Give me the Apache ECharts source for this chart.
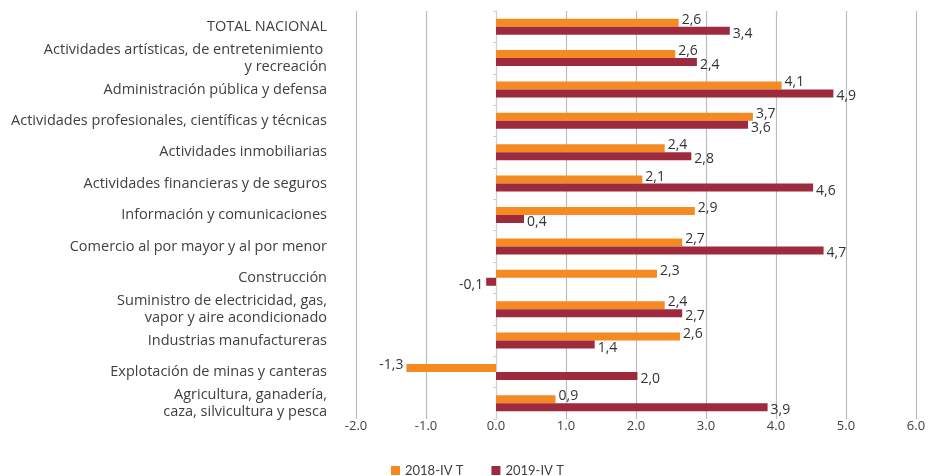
<!DOCTYPE html>
<html>
<head>
<meta charset="utf-8">
<script src="https://cdn.jsdelivr.net/npm/echarts@6/dist/echarts.min.js"></script>
<style>html,body{margin:0;padding:0;background:#fff}#c{width:929px;height:476px}</style>
</head>
<body>
<div id="c"></div>
<script>
const categories = [
  "TOTAL NACIONAL",
  "Actividades artísticas, de entretenimiento \ny recreación",
  "Administración pública y defensa",
  "Actividades profesionales, científicas y técnicas",
  "Actividades inmobiliarias",
  "Actividades financieras y de seguros",
  "Información y comunicaciones",
  "Comercio al por mayor y al por menor",
  "Construcción",
  "Suministro de electricidad, gas,\nvapor y aire acondicionado",
  "Industrias manufactureras",
  "Explotación de minas y canteras",
  "Agricultura, ganadería,\ncaza, silvicultura y pesca"
];
const seriesNames = ["2018-IV T", "2019-IV T"];
const values2018 = [2.61, 2.56, 4.08, 3.67, 2.41, 2.09, 2.84, 2.66, 2.30, 2.41, 2.63, -1.28, 0.85];
const values2019 = [3.34, 2.87, 4.82, 3.60, 2.79, 4.53, 0.40, 4.68, -0.14, 2.66, 1.41, 2.02, 3.88];
const labels2018 = ["2,6", "2,6", "4,1", "3,7", "2,4", "2,1", "2,9", "2,7", "2,3", "2,4", "2,6", "-1,3", "0,9"];
const labels2019 = ["3,4", "2,4", "4,9", "3,6", "2,8", "4,6", "0,4", "4,7", "-0,1", "2,7", "1,4", "2,0", "3,9"];
const xTicks = { min: -2, max: 6, interval: 1 };

const textColor = "#404040";
const fontFamily = "'Open Sans', Lato, sans-serif";

function mkData(vals, labs, dy) {
  return vals.map((v, i) => ({
    value: v,
    label: {
      position: v < 0 ? "left" : "right",
      formatter: labs[i],
      offset: [0, dy]
    }
  }));
}

const chart = echarts.init(document.getElementById("c"), null, { renderer: "canvas" });
chart.setOption({
  animation: false,
  backgroundColor: "#fff",
  grid: { left: 356, right: 13, top: 11, bottom: 57, containLabel: false, outerBoundsMode: "none" },
  xAxis: {
    type: "value",
    min: xTicks.min, max: xTicks.max, interval: xTicks.interval,
    axisLine: { show: false },
    axisTick: { show: false },
    splitLine: { show: true, lineStyle: { color: "#bdbdbd", width: 1.2 } },
    axisLabel: {
      color: textColor, fontSize: 13, fontFamily: fontFamily, margin: 1,
      formatter: v => v.toFixed(1)
    }
  },
  yAxis: {
    type: "category",
    inverse: true,
    data: categories,
    axisLine: { show: true, onZero: true, lineStyle: { color: "#d0d0d0", width: 1 } },
    axisTick: { show: true, length: 3, lineStyle: { color: "#d0d0d0" } },
    splitLine: { show: false },
    axisLabel: {
      color: textColor, fontSize: 14.5, fontFamily: fontFamily,
      margin: 29, align: "right", lineHeight: 17
    }
  },
  legend: {
    top: 459,
    left: 386,
    itemWidth: 9, itemHeight: 9, itemGap: 28,
    icon: "rect",
    textStyle: { color: textColor, fontSize: 13, fontFamily: "Lato, sans-serif" },
    data: seriesNames
  },
  series: [
    {
      name: seriesNames[0], type: "bar", barWidth: 8, barGap: "0%",
      itemStyle: { color: "#F58A22" },
      label: { show: true, color: "#333", fontSize: 14, fontFamily: fontFamily, distance: 3 },
      data: mkData(values2018, labels2018, -3)
    },
    {
      name: seriesNames[1], type: "bar", barWidth: 8, barGap: "0%",
      itemStyle: { color: "#9E2A3D" },
      label: { show: true, color: "#333", fontSize: 14, fontFamily: fontFamily, distance: 3 },
      data: mkData(values2019, labels2019, 3)
    }
  ]
});
</script>
</body>
</html>
